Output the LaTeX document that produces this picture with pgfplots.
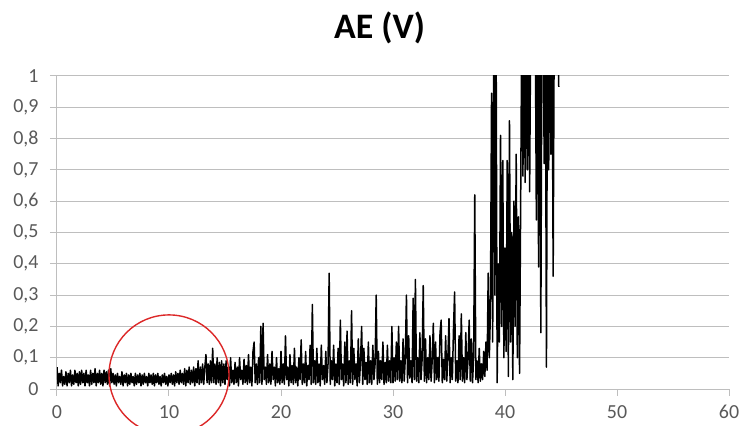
\documentclass[border=0pt]{standalone}
\usepackage{fontspec}
\setmainfont{Carlito}
\usepackage{pgfplots}
\pgfplotsset{compat=1.18}
\definecolor{ticktext}{RGB}{89,89,89}
\definecolor{gridgray}{RGB}{190,190,190}
\definecolor{ringred}{RGB}{220,40,40}

\begin{document}
\begin{tikzpicture}
\useasboundingbox (-57bp,-37bp) rectangle (685bp,389bp);
\begin{axis}[
  at={(0,0)}, anchor=south west,
  scale only axis,
  width=672bp, height=313bp,
  xmin=0, xmax=60, ymin=0, ymax=1,
  xtick={0,10,...,60},
  ytick={0,0.1,...,1},
  axis lines=left,
  axis line style={-, draw=gridgray, line width=1bp},
  ymajorgrids,
  grid style={draw=gridgray, line width=1bp},
  tick style={draw=gridgray, line width=1bp},
  tickwidth=7bp,
  xtick align=outside, ytick align=outside,
  tick label style={font=\fontsize{20}{23}\selectfont, text=ticktext},
  /pgf/number format/assume math mode=true,
  /pgf/number format/use comma,
  yticklabel style={xshift=-8bp},
  xticklabel style={yshift=-6bp},
  title={AE (V)},
  title style={font=\fontsize{36}{40}\selectfont\bfseries, at={(0.48,1)},
    anchor=center, yshift=42bp},
]
% AE signal, one sample every 0.1 on the x axis
\addplot[black, line width=1.5bp, line join=round] table[header=false, row sep=\\,
  x expr=\coordindex/10, y index=0] {
0.07\\0.01\\0.05\\0.02\\0.06\\0.01\\0.04\\0.015\\0.055\\0.01\\
0.05\\0.02\\0.06\\0.01\\0.045\\0.015\\0.06\\0.02\\0.05\\0.01\\
0.055\\0.015\\0.06\\0.02\\0.05\\0.01\\0.06\\0.02\\0.045\\0.01\\
0.06\\0.015\\0.05\\0.02\\0.065\\0.01\\0.05\\0.02\\0.06\\0.015\\
0.05\\0.01\\0.06\\0.02\\0.055\\0.015\\0.06\\0.01\\0.065\\0.02\\
0.05\\0.015\\0.045\\0.01\\0.05\\0.02\\0.04\\0.015\\0.055\\0.01\\
0.045\\0.02\\0.05\\0.01\\0.045\\0.015\\0.05\\0.02\\0.04\\0.01\\
0.05\\0.015\\0.045\\0.02\\0.05\\0.01\\0.045\\0.015\\0.05\\0.02\\
0.04\\0.01\\0.05\\0.02\\0.045\\0.015\\0.05\\0.01\\0.045\\0.02\\
0.05\\0.015\\0.04\\0.01\\0.045\\0.02\\0.05\\0.015\\0.04\\0.01\\
0.045\\0.02\\0.05\\0.015\\0.045\\0.01\\0.055\\0.02\\0.05\\0.015\\
0.06\\0.02\\0.05\\0.015\\0.065\\0.01\\0.06\\0.02\\0.07\\0.015\\
0.06\\0.02\\0.07\\0.01\\0.065\\0.02\\0.09\\0.015\\0.07\\0.02\\
0.08\\0.015\\0.07\\0.11\\0.02\\0.08\\0.015\\0.09\\0.02\\0.13\\
0.02\\0.08\\0.015\\0.1\\0.02\\0.085\\0.01\\0.09\\0.02\\0.08\\
0.015\\0.09\\0.03\\0.07\\0.01\\0.1\\0.02\\0.06\\0.015\\0.085\\
0.02\\0.07\\0.01\\0.1\\0.03\\0.06\\0.015\\0.095\\0.02\\0.075\\
0.015\\0.11\\0.02\\0.07\\0.01\\0.12\\0.15\\0.02\\0.08\\0.015\\
0.1\\0.02\\0.2\\0.015\\0.21\\0.03\\0.07\\0.015\\0.11\\0.02\\
0.08\\0.015\\0.12\\0.03\\0.07\\0.01\\0.1\\0.02\\0.065\\0.015\\
0.12\\0.02\\0.08\\0.015\\0.17\\0.03\\0.07\\0.01\\0.11\\0.02\\
0.075\\0.015\\0.13\\0.02\\0.07\\0.01\\0.1\\0.03\\0.157\\0.015\\
0.08\\0.02\\0.12\\0.01\\0.075\\0.03\\0.14\\0.015\\0.27\\0.02\\
0.09\\0.015\\0.13\\0.02\\0.08\\0.01\\0.14\\0.03\\0.075\\0.015\\
0.12\\0.02\\0.08\\0.37\\0.015\\0.09\\0.03\\0.14\\0.01\\0.08\\
0.02\\0.13\\0.015\\0.22\\0.03\\0.08\\0.01\\0.15\\0.02\\0.185\\
0.015\\0.09\\0.02\\0.25\\0.015\\0.13\\0.03\\0.08\\0.01\\0.16\\
0.02\\0.09\\0.2\\0.015\\0.13\\0.03\\0.085\\0.015\\0.15\\0.02\\
0.09\\0.015\\0.14\\0.03\\0.08\\0.30\\0.015\\0.12\\0.02\\0.09\\
0.03\\0.15\\0.015\\0.085\\0.02\\0.14\\0.025\\0.09\\0.02\\0.2\\
0.02\\0.1\\0.025\\0.15\\0.03\\0.2\\0.025\\0.09\\0.02\\0.16\\
0.025\\0.1\\0.3\\0.02\\0.17\\0.035\\0.09\\0.02\\0.29\\0.03\\
0.35\\0.025\\0.1\\0.02\\0.18\\0.03\\0.095\\0.33\\0.025\\0.16\\
0.02\\0.1\\0.03\\0.17\\0.025\\0.09\\0.21\\0.02\\0.15\\0.03\\
0.1\\0.025\\0.18\\0.22\\0.02\\0.095\\0.03\\0.17\\0.025\\0.1\\
0.225\\0.02\\0.1\\0.03\\0.19\\0.31\\0.025\\0.09\\0.02\\0.17\\
0.03\\0.24\\0.025\\0.1\\0.02\\0.18\\0.03\\0.095\\0.22\\0.025\\
0.16\\0.02\\0.1\\0.62\\0.03\\0.09\\0.02\\0.13\\0.025\\0.08\\
0.03\\0.12\\0.04\\0.15\\0.06\\0.37\\0.1\\0.25\\0.945\\0.15\\
1.2\\0.3\\1.2\\0.02\\0.4\\0.15\\0.81\\0.2\\0.73\\0.1\\
0.45\\0.12\\0.73\\0.04\\0.857\\0.15\\0.5\\0.03\\0.6\\0.2\\
0.75\\0.1\\0.55\\0.05\\0.6\\1.2\\0.68\\1.2\\0.66\\1.2\\
0.7\\1.2\\0.63\\1.2\\1.2\\1.2\\1.2\\1.2\\0.54\\1.2\\
0.39\\1.2\\0.18\\1.2\\1.2\\0.72\\1.2\\0.07\\1.2\\0.7\\
1.2\\0.75\\1.2\\0.36\\1.2\\1.2\\1.2\\1.2\\0.965\\
};
\coordinate (ring) at (axis cs:10,0.045);
\end{axis}
\draw[ringred, line width=1.4bp] (ring) circle[radius=60bp];
\end{tikzpicture}
\end{document}
